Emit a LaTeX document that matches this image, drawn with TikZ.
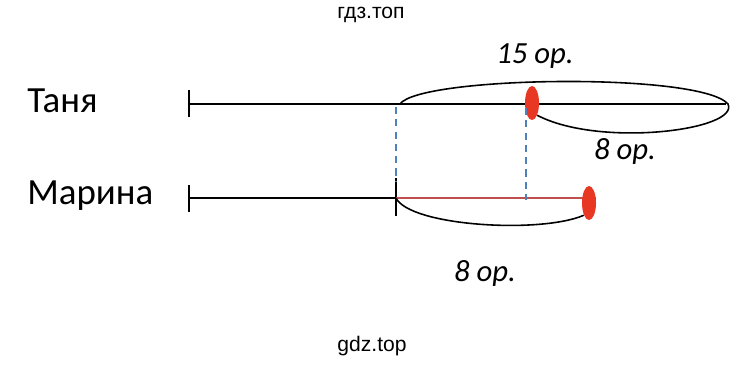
\documentclass[tikz,border=0pt]{standalone}
\usepackage{fontspec}
\setmainfont{Carlito}
\newfontfamily\wmfont{Liberation Sans}
\usepackage{tikz}
\usetikzlibrary{positioning,shapes.geometric}
\usepackage{xcolor}
\definecolor{ink}{RGB}{0,0,0}
\definecolor{dotred}{RGB}{232,56,36}
\definecolor{segred}{RGB}{192,80,77}
\definecolor{guide}{RGB}{79,129,189}
\tikzset{
  person/.style={font=\fontsize{21}{25}\selectfont,text=ink,inner sep=0pt},
  qty/.style={font=\fontsize{17.5}{20}\selectfont\itshape,text=ink,inner sep=0pt},
  wm/.style={font=\wmfont\fontsize{12}{14}\selectfont,text=ink,inner sep=0pt},
  seg/.style={draw=ink,line width=0.8pt},
  tick/.style={draw=ink,line width=0.9pt},
  loop/.style={draw=ink,line width=0.9pt},
  guideline/.style={draw=guide,line width=0.8pt,dash pattern=on 4pt off 3pt},
  dot/.style={ellipse,fill=dotred,draw=none,minimum width=0.28cm,
    minimum height=0.68cm,inner sep=0pt},
}
\begin{document}
\begin{tikzpicture}[x=0.02cm,y=-0.02cm]
  \useasboundingbox (0,0) rectangle (756,365);

  % watermarks
  \node[wm] (wtop) at (371,15) {гдз.топ};
  \node[wm] (wbot) at (372,346) {gdz.top};

  % names
  \node[person,anchor=west] (tanya) at (27,101) {Таня};
  \node[person,anchor=west] (marina) at (27,196) {Марина};

  % Tanya's line
  \coordinate (t0) at (189,104);
  \coordinate (t1) at (726,104);
  \coordinate (ts) at (400,104);
  \draw[tick] (189,90) -- (189,117);
  \draw[seg] (t0) -- (t1);
  \node[dot] (tdot) at (532,103) {};

  % Marina's line
  \coordinate (m0) at (189,198);
  \coordinate (m1) at (396,198);
  \coordinate (m2) at (596,198);
  \draw[tick] (189,185) -- (189,212);
  \draw[tick] (396,178) -- (396,216);
  \draw[seg] (m0) -- (m1);
  \draw[draw=segred,line width=0.9pt] (m1) -- (m2);
  \node[dot] (mdot) at (589,203) {};

  % guides
  \draw[guideline] (396,107) -- (396,182);
  \draw[guideline] (526,108) -- (526,200);

  % loops
  \draw[loop] (ts) .. controls (420,76) and (700,72) .. (728,104)
    .. controls (740,130) and (600,148) .. (tdot.south east);
  \draw[loop] (m1) .. controls (410,226) and (540,234) .. (mdot.south west);

  % quantities
  \node[qty] (q15) at (535,56) {15 ор.};
  \node[qty] (q8a) at (625,151) {8 ор.};
  \node[qty] (q8b) at (485,273) {8 ор.};
\end{tikzpicture}
\end{document}
